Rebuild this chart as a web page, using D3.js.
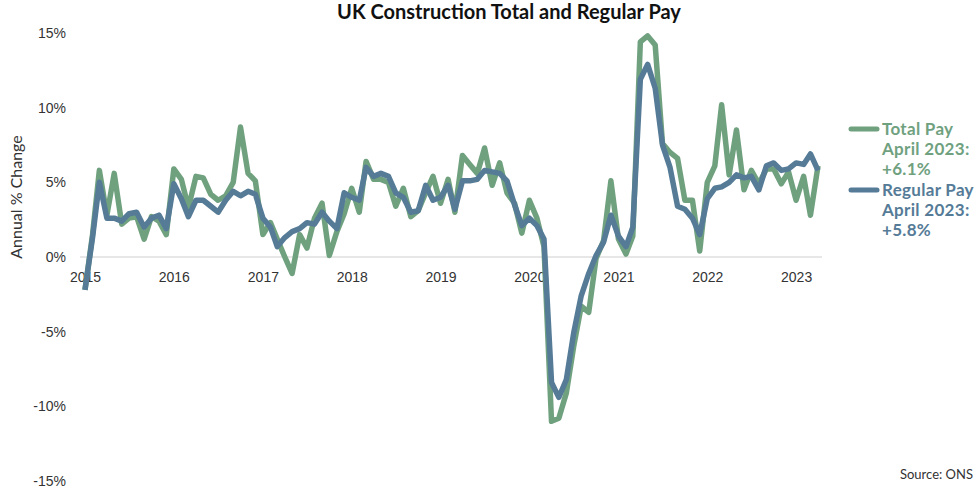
<!DOCTYPE html>
<html>
<head>
    <meta charset="utf-8">
    <title>UK Construction Total and Regular Pay</title>
    <script src="https://d3js.org/d3.v7.min.js"></script>
    <style>
        body { margin: 0; background: #fff; }
        svg { font-family: Lato, "Open Sans", sans-serif; }
        .title { font-size: 20px; font-weight: bold; fill: #111; text-anchor: middle; }
        .axis text { font-size: 14px; fill: #333; }
        .axis .domain { display: none; }
        .legend text { font-size: 17px; font-weight: bold; letter-spacing: 0.3px; }
        .source { font-size: 13px; fill: #333; text-anchor: end; }
    </style>
</head>
<body>
    <svg width="976" height="491"></svg>
    <script>
        // monthly annual % change, Jan 2015 .. Apr 2023
        var startMonth = new Date(2015, 0, 1);

        var totalPay = [
            -2.2, 1.5, 5.8, 2.8, 5.6, 2.2, 2.6, 2.7, 1.2, 2.7, 2.4, 1.5,
            5.9, 5.2, 3.3, 5.4, 5.3, 4.2, 3.8, 4.1, 5.0, 8.7, 5.6, 5.1,
            1.5, 2.3, 1.2, 0.0, -1.1, 1.5, 0.6, 2.6, 3.6, 0.1, 1.7, 2.9,
            4.6, 3.0, 6.4, 5.2, 5.2, 5.0, 3.4, 4.6, 2.7, 3.1, 4.3, 5.4,
            3.6, 5.2, 3.0, 6.8, 6.2, 5.6, 7.3, 4.8, 6.3, 4.3, 3.6, 1.6,
            3.8, 2.6, 0.7, -11.0, -10.8, -9.1, -6.0, -3.3, -3.7, -0.1, 1.1, 5.1,
            1.2, 0.2, 1.4, 14.4, 14.8, 14.2, 7.6, 7.0, 6.6, 3.8, 3.8, 0.4,
            5.0, 6.1, 10.2, 5.5, 8.5, 4.5, 5.8, 4.9, 5.9, 5.9, 4.9, 5.7,
            3.8, 5.4, 2.8, 6.1
        ];

        var regularPay = [
            -2.2, 1.3, 5.0, 2.6, 2.6, 2.4, 2.9, 3.0, 2.0, 2.6, 2.8, 1.9,
            4.9, 3.9, 2.7, 3.8, 3.8, 3.4, 3.0, 3.8, 4.4, 4.1, 4.4, 4.2,
            2.6, 2.0, 0.7, 1.3, 1.7, 1.9, 2.3, 2.2, 3.0, 2.4, 1.9, 4.3,
            4.0, 3.8, 6.0, 5.4, 5.6, 5.4, 4.3, 4.0, 3.0, 3.1, 4.8, 3.8,
            4.0, 4.8, 3.2, 5.1, 5.1, 5.2, 5.8, 5.7, 5.6, 5.1, 3.5, 2.1,
            2.6, 2.1, 1.2, -8.4, -9.4, -8.2, -5.1, -2.6, -1.1, 0.1, 1.0, 2.8,
            1.4, 0.7, 2.0, 11.9, 12.9, 11.3, 7.5, 6.0, 3.4, 3.2, 2.6, 1.5,
            3.9, 4.6, 4.7, 5.0, 5.5, 5.3, 5.4, 4.5, 6.1, 6.3, 5.8, 5.9,
            6.3, 6.2, 6.9, 5.8
        ];

        var seriesNames = ["Total Pay", "Regular Pay"];
        var seriesColors = ["#70a17f", "#557b97"];
        var yTicks = [-15, -10, -5, 0, 5, 10, 15];
        var latestLabel = "April 2023:";

        var svg = d3.select("svg");

        var months = totalPay.map((d, i) => d3.timeMonth.offset(startMonth, i));

        var x = d3.scaleTime()
            .domain([months[0], months[months.length - 1]])
            .range([85, 818]);

        var y = d3.scaleLinear()
            .domain([-15, 15])
            .range([481, 33]);

        // title
        svg.append("text")
            .attr("class", "title")
            .attr("x", 509)
            .attr("y", 19)
            .text("UK Construction Total and Regular Pay");

        // zero line
        svg.append("line")
            .attr("x1", x.range()[0] - 5)
            .attr("x2", x.range()[1] + 4)
            .attr("y1", y(0))
            .attr("y2", y(0))
            .attr("stroke", "#cfcfcf")
            .attr("stroke-width", 1);

        // y axis
        svg.append("g")
            .attr("class", "axis")
            .attr("transform", "translate(66,0)")
            .call(d3.axisLeft(y).tickValues(yTicks).tickSize(0).tickPadding(0)
                .tickFormat(d => d + "%"));

        // x axis, years on the zero line
        svg.append("g")
            .attr("class", "axis")
            .attr("transform", `translate(0,${y(0)})`)
            .call(d3.axisBottom(x).ticks(d3.timeYear.every(1)).tickSize(0).tickPadding(15)
                .tickFormat(d3.timeFormat("%Y")));

        // y axis title
        svg.append("text")
            .attr("transform", "translate(22,197) rotate(-90)")
            .attr("text-anchor", "middle")
            .style("font-size", "16px")
            .style("fill", "#333")
            .text("Annual % Change");

        var line = d3.line()
            .x((d, i) => x(months[i]))
            .y(d => y(d));

        [totalPay, regularPay].forEach(function (series, k) {
            svg.append("path")
                .datum(series)
                .attr("fill", "none")
                .attr("stroke", seriesColors[k])
                .attr("stroke-width", 5.5)
                .attr("stroke-linejoin", "round")
                .attr("d", line);
        });

        // legend
        var legend = svg.append("g").attr("class", "legend");
        [totalPay, regularPay].forEach(function (series, k) {
            var top = 129 + k * 61;
            legend.append("line")
                .attr("x1", 851).attr("x2", 877)
                .attr("y1", top).attr("y2", top)
                .attr("stroke", seriesColors[k])
                .attr("stroke-width", 5)
                .attr("stroke-linecap", "round");
            var lines = [seriesNames[k], latestLabel,
                d3.format("+.1f")(series[series.length - 1]) + "%"];
            lines.forEach(function (t, j) {
                legend.append("text")
                    .attr("x", 882)
                    .attr("y", top + 6 + j * 20)
                    .attr("fill", seriesColors[k])
                    .text(t);
            });
        });

        svg.append("text")
            .attr("class", "source")
            .attr("x", 973)
            .attr("y", 479)
            .text("Source: ONS");
    </script>
</body>
</html>
